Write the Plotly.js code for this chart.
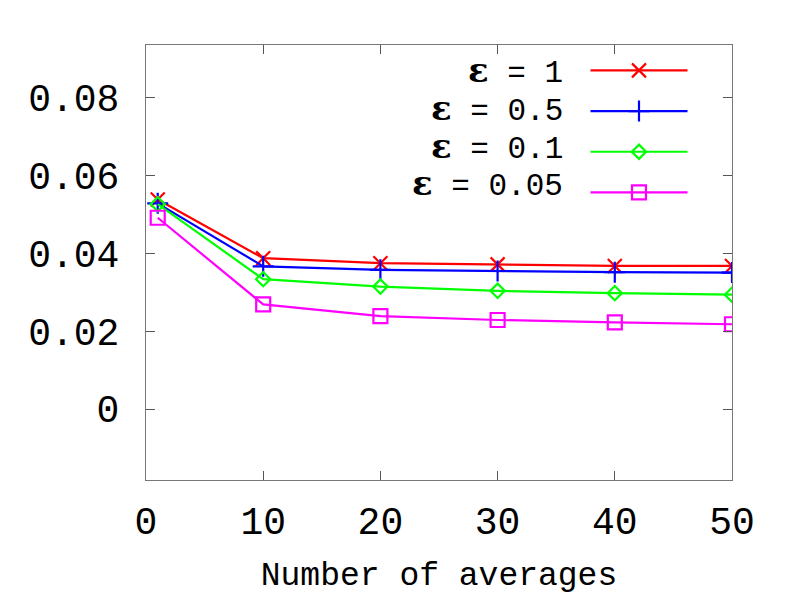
<!DOCTYPE html>
<html><head><meta charset="utf-8">
<script src="https://cdn.plot.ly/plotly-3.0.1.min.js"></script>
<style>html,body{margin:0;padding:0;background:#fff}</style>
</head><body><div id="chart" style="width:798px;height:600px"></div>
<script>
const xValues = [1, 10, 20, 30, 40, 50];
const epsOne = [0.0539, 0.0388, 0.0375, 0.0372, 0.0368, 0.0368];
const epsHalf = [0.0529, 0.0367, 0.0358, 0.0355, 0.0352, 0.0351];
const epsTenth = [0.0527, 0.0334, 0.0315, 0.0304, 0.0298, 0.0294];
const epsTwentieth = [0.0492, 0.0269, 0.0239, 0.0229, 0.0223, 0.0218];
const epsLabels = ['1', '0.5', '0.1', '0.05'];
const xTicks = [0, 10, 20, 30, 40, 50];
const yTicks = [0, 0.02, 0.04, 0.06, 0.08];
const yTickText = ['0', '0.02', '0.04', '0.06', '0.08'];

const seriesValues = [epsOne, epsHalf, epsTenth, epsTwentieth];
const colors = ['#ff0000', '#0000ff', '#00ff00', '#ff00ff'];
const symbols = ['x-thin-open', 'cross-thin-open', 'diamond-open', 'square-open'];
const sizes = [14, 15, 11, 14];

const traces = seriesValues.map((ys, i) => ({
  type: 'scatter', mode: 'lines+markers',
  x: xValues, y: ys,
  name: '\u00a0',
  line: {color: colors[i], width: 2.2},
  marker: {symbol: symbols[i], size: sizes[i], color: colors[i], line: {color: colors[i], width: 2.2}}
}));

const rowY = [0.9425, 0.855, 0.7678, 0.6805];
const annotations = epsLabels.map((lab, i) => ({
  xref: 'paper', yref: 'paper', x: 0.715, y: rowY[i],
  xanchor: 'right', yanchor: 'middle', showarrow: false,
  text: '<span style="font-family:\'DejaVu Serif\';font-size:34px;font-weight:bold">\u03b5</span> = ' + lab,
  font: {family: 'Liberation Mono', size: 31, color: '#000'}
}));

const axisCommon = {
  showgrid: false, zeroline: false, showline: true, mirror: 'ticks',
  linecolor: '#777', linewidth: 1, ticks: 'inside', ticklen: 9, tickcolor: '#555', tickwidth: 1,
  tickfont: {family: 'Liberation Mono', size: 38, color: '#000'}
};

const layout = {
  width: 798, height: 600,
  margin: {l: 146, r: 66, t: 45, b: 120},
  paper_bgcolor: '#fff', plot_bgcolor: '#fff',
  showlegend: true,
  legend: {x: 0.75, y: 1, xanchor: 'left', yanchor: 'top', bgcolor: 'rgba(0,0,0,0)', borderwidth: 0,
           font: {family: 'Liberation Mono', size: 29, color: '#000'}, itemwidth: 97},
  xaxis: Object.assign({}, axisCommon, {
    range: [0, 50], tickvals: xTicks, ticktext: xTicks.map(String), ticklabelstandoff: 7,
    title: {text: 'Number of averages', font: {family: 'Liberation Mono', size: 33, color: '#000'}, standoff: 18}
  }),
  yaxis: Object.assign({}, axisCommon, {
    range: [-0.01826, 0.09363], tickvals: yTicks, ticktext: yTickText, ticklabelstandoff: 18
  }),
  annotations: annotations
};

Plotly.newPlot('chart', traces, layout, {displayModeBar: false, staticPlot: true});
</script></body></html>
